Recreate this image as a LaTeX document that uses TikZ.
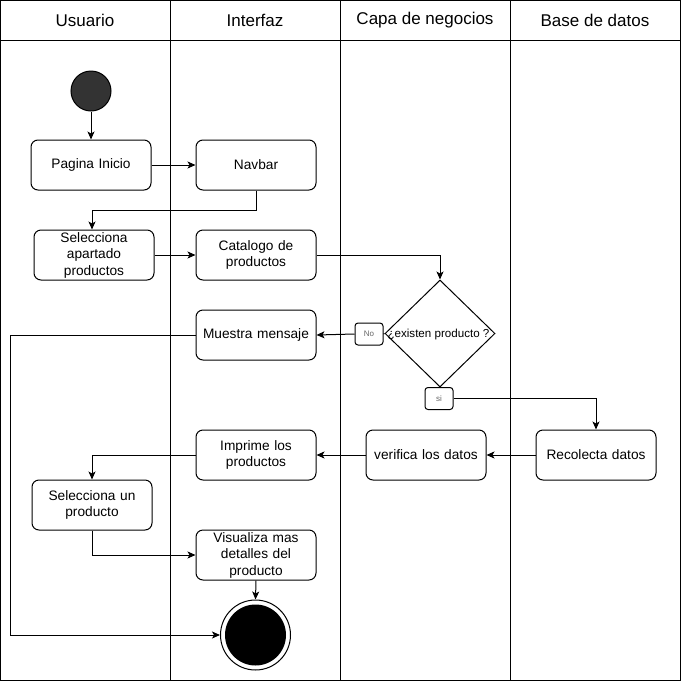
\documentclass[tikz,border=0pt]{standalone}
\usepackage{fontspec}
\setmainfont{Liberation Sans}
\usetikzlibrary{arrows.meta,shapes.geometric}
\begin{document}
\begin{tikzpicture}[x=1pt,y=-1pt,
  line width=1pt,
  lane/.style={draw=black, line width=1pt},
  hdr/.style={font=\fontsize{17}{20}\selectfont, anchor=center},
  actbox/.style={draw=black, rounded corners=7pt, minimum width=120pt, minimum height=50pt,
    text width=116pt, align=center, inner sep=0pt, font=\fontsize{13.7}{16.5}\selectfont},
  tag/.style={draw=black, rounded corners=3pt, minimum width=28pt, minimum height=22pt, inner sep=0pt,
    fill=white, text=black!60, font=\fontsize{8}{9}\selectfont},
  arr/.style={-{Stealth[length=8pt,width=7pt,inset=2pt]}},
  conn/.style={draw=black, line width=1pt}
]
\useasboundingbox (0,0) rectangle (681,681);

% swimlanes
\draw[lane] (0.5,0.5) rectangle (680.5,680.5);
\draw[lane] (0.5,40.5) -- (680.5,40.5);
\draw[lane] (170.5,0.5) -- (170.5,680.5);
\draw[lane] (340.5,0.5) -- (340.5,680.5);
\draw[lane] (510.5,0.5) -- (510.5,680.5);
\node[hdr] (h1) at (85,20) {Usuario};
\node[hdr] (h2) at (255,20) {Interfaz};
\node[hdr] (h3) at (425,20) {Capa de negocios};
\node[hdr] (h4) at (595,20) {Base de datos};

% initial and final states
\node[circle, draw=black, fill=black!80, minimum size=40pt, inner sep=0pt] (start) at (91,91) {};
\node[circle, draw=black, fill=white, minimum size=70pt, inner sep=0pt] (endc) at (255.5,635) {};
\fill[black] (endc.center) circle (30.5pt);

% activities
\node[actbox] (pag) at (91,165) {Pagina Inicio};
\node[actbox] (nav) at (256,165) {Navbar};
\node[actbox] (selA) at (94,255) {Selecciona\\apartado\\productos};
\node[actbox] (cat) at (256,255) {Catalogo de\\productos};
\node[diamond, draw=black, minimum width=110pt, minimum height=107pt, inner sep=0pt,
  label={[font=\fontsize{11.6}{14}\selectfont, xshift=-1.5pt, yshift=-1pt]center:¿existen producto ?}] (dia) at (440,333.5) {};
\node[actbox] (msg) at (256,335) {Muestra mensaje};
\node[tag] (no) at (369,334) {No};
\node[tag] (si) at (439,398.5) {si};
\node[actbox] (rec) at (596,455) {Recolecta datos};
\node[actbox] (ver) at (426,455) {verifica los datos};
\node[actbox] (imp) at (256,455) {Imprime los\\productos};
\node[actbox] (selB) at (92,505) {Selecciona un\\producto};
\node[actbox] (vis) at (256,555) {Visualiza mas\\detalles del\\producto};

% connectors
\draw[conn, arr] (start) -- (pag);
\draw[conn, arr] (pag) -- (nav);
\draw[conn, arr] (nav.south) -- ++(0,20) -| ([xshift=-2pt]selA.north);
\draw[conn, arr] (selA) -- (cat);
\draw[conn, arr] (cat.east) -| (dia.north);
\draw[conn] (dia.west) -- (no.east);
\draw[conn, arr] (no.west) -- (msg.east);
\draw[conn] (dia.south) -- (si.north);
\draw[conn, arr] (si.east) -| (rec.north);
\draw[conn, arr] (rec) -- (ver);
\draw[conn, arr] (ver) -- (imp);
\draw[conn, arr] (imp.west) -| (selB.north);
\draw[conn, arr] (selB.south) |- (vis.west);
\draw[conn, arr] (vis.south) -- (endc.north);
\draw[conn, arr] (msg.west) -- ++(-185,0) |- (endc.west);
\end{tikzpicture}
\end{document}
